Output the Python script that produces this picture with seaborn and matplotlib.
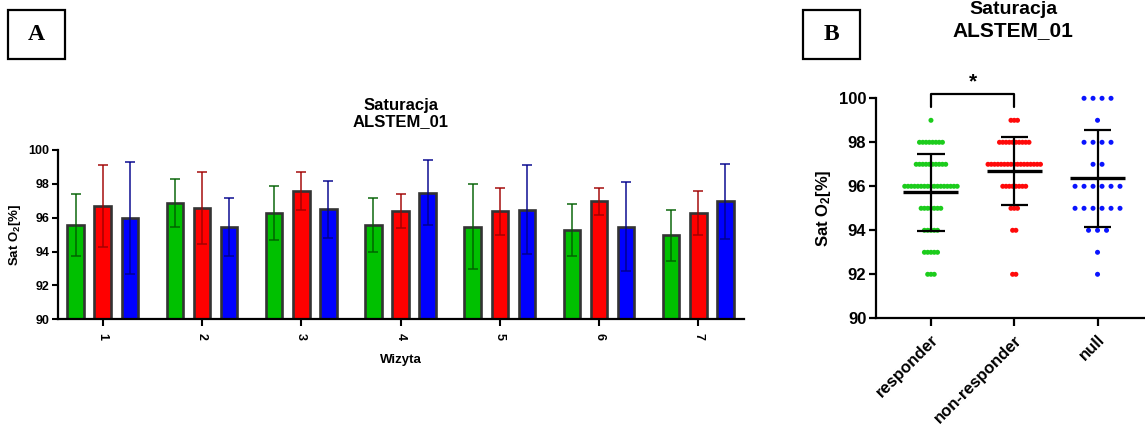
import numpy as np
import pandas as pd
import matplotlib
matplotlib.use("Agg")
import matplotlib.pyplot as plt
from matplotlib.patches import Rectangle
from matplotlib.container import BarContainer
import seaborn as sns

# ---- Panel A: mean +/- SD saturation per visit ----
visits = ["1", "2", "3", "4", "5", "6", "7"]
groups = ["responder", "non-responder", "null"]
mean_resp = [95.58, 96.88, 96.28, 95.58, 95.48, 95.28, 94.97]
sd_resp = [1.82, 1.41, 1.59, 1.61, 2.51, 1.52, 1.51]
mean_nonresp = [96.69, 96.57, 97.58, 96.38, 96.37, 96.98, 96.27]
sd_nonresp = [2.42, 2.11, 1.10, 1.00, 1.41, 0.80, 1.31]
mean_null = [95.98, 95.47, 96.49, 97.48, 96.48, 95.47, 96.98]
sd_null = [3.31, 1.72, 1.70, 1.91, 2.61, 2.62, 2.21]

# ---- Panel B: individual saturation readings (count of patients per level) ----
sat_levels = [100, 99, 98, 97, 96, 95, 94, 93, 92]
count_resp = [0, 1, 8, 10, 17, 7, 5, 5, 3]
count_nonresp = [0, 3, 10, 17, 8, 3, 2, 0, 2]
count_null = [4, 1, 4, 2, 6, 6, 3, 1, 1]

bar_colors = ["#00c000", "#ff0000", "#0000ff"]
err_colors = ["#006000", "#a00000", "#00008c"]
dot_colors = ["#1ccc1c", "#ff0a0a", "#0a14ff"]

W, H = 1145, 425

sns.set_theme(style="ticks")
plt.rcParams["font.family"] = ["Liberation Sans", "DejaVu Sans"]
plt.rcParams["font.weight"] = "bold"
plt.rcParams["mathtext.fontset"] = "custom"
plt.rcParams["mathtext.rm"] = "Liberation Sans:bold"
plt.rcParams["mathtext.default"] = "rm"
plt.rcParams["text.color"] = "black"
plt.rcParams["axes.labelcolor"] = "black"
plt.rcParams["xtick.color"] = "black"
plt.rcParams["ytick.color"] = "black"

fig = plt.figure(figsize=(W / 100, H / 100), dpi=100)
fig.patch.set_facecolor("white")

# ================= Panel A =================
axA = fig.add_axes([58 / W, 1 - 319.3 / H, (744 - 58) / W, (319.3 - 150) / H])
df_a = pd.DataFrame({
    "visit": visits * 3,
    "group": np.repeat(groups, len(visits)),
    "mean": mean_resp + mean_nonresp + mean_null,
})
sns.barplot(data=df_a, x="visit", y="mean", hue="group", order=visits,
            hue_order=groups, palette=bar_colors, saturation=1,
            width=0.82, gap=0.39, errorbar=None, edgecolor="#333333",
            linewidth=1.9, legend=False, ax=axA)

sds = [sd_resp, sd_nonresp, sd_null]
bar_containers = [c for c in axA.containers if isinstance(c, BarContainer)]
for i, container in enumerate(bar_containers):
    bars = sorted(container.patches, key=lambda b: b.get_x())
    for bar, s in zip(bars, sds[i]):
        cx = bar.get_x() + bar.get_width() / 2
        axA.errorbar(cx, bar.get_height(), yerr=s, color=err_colors[i],
                     alpha=0.8, capsize=3.5, elinewidth=1.3, capthick=1.3,
                     zorder=4)

axA.set_ylim(90, 100)
axA.set_yticks(np.arange(90, 101, 2))
axA.set_xlim(-0.45, 6.46)
axA.set_xticks(range(len(visits)))
axA.set_xticklabels(visits, rotation=-90)
axA.set_xlabel("Wizyta", fontsize=9.5, fontweight="bold", labelpad=10)
axA.set_ylabel("Sat O$_2$[%]", fontsize=9.5, fontweight="bold", labelpad=4)
axA.set_title("Saturacja\nALSTEM_01", fontsize=12, fontweight="bold", pad=17,
              linespacing=1.15)
sns.despine(ax=axA)
for side in ("left", "bottom"):
    axA.spines[side].set_linewidth(1.6)
    axA.spines[side].set_color("black")
axA.tick_params(axis="y", length=4, width=1.5, labelsize=9, pad=2)
axA.tick_params(axis="x", length=5, width=1.5, labelsize=9, pad=5)

# ================= Panel B =================
axB = fig.add_axes([876 / W, 1 - 318.3 / H, (1145 - 876) / W, (318.3 - 98.3) / H])

counts = [count_resp, count_nonresp, count_null]
max_width = 0.63
base_step = 0.108
rows = []
for gi, (g, cnt) in enumerate(zip(groups, counts)):
    step = min(base_step, max_width / (max(cnt) - 1))
    for level, n in zip(sat_levels, cnt):
        for k in range(n):
            rows.append({"group": g, "sat": level,
                         "xpos": gi + (k - (n - 1) / 2) * step})
df_b = pd.DataFrame(rows)

sns.scatterplot(data=df_b, x="xpos", y="sat", hue="group", hue_order=groups,
                palette=dot_colors, s=13, linewidth=0, legend=False,
                clip_on=False, ax=axB, zorder=3)

for gi, g in enumerate(groups):
    vals = df_b.loc[df_b["group"] == g, "sat"]
    m, sd = vals.mean(), vals.std(ddof=1)
    axB.hlines(m, gi - 0.33, gi + 0.33, color="black", lw=2.4, zorder=5)
    axB.vlines(gi, m - sd, m + sd, color="black", lw=1.6, zorder=5)
    axB.hlines([m - sd, m + sd], gi - 0.165, gi + 0.165, color="black",
               lw=1.6, zorder=5)

# significance bracket between responder and non-responder
axB.plot([0, 0, 1, 1], [99.62, 100.18, 100.18, 99.62], color="black",
         lw=1.6, clip_on=False)
axB.text(0.5, 100.75, "*", ha="center", va="center", fontsize=15,
         fontweight="bold")

axB.set_ylim(90, 100)
axB.set_yticks(np.arange(90, 101, 2))
axB.set_xlim(-0.66, 2.57)
axB.set_xticks(range(len(groups)))
axB.set_xticklabels(groups, rotation=45, ha="right", rotation_mode="anchor")
axB.set_xlabel("")
axB.set_ylabel("Sat O$_2$[%]", fontsize=12, fontweight="bold", labelpad=4)
sns.despine(ax=axB)
for side in ("left", "bottom"):
    axB.spines[side].set_linewidth(1.6)
    axB.spines[side].set_color("black")
axB.tick_params(axis="y", length=5, width=1.6, labelsize=12, pad=2)
axB.tick_params(axis="x", length=6, width=1.6, labelsize=12, pad=4)

fig.text(1013 / W, 1 - 31 / H, "ALSTEM_01", ha="center", va="center",
         fontsize=15, fontweight="bold")
fig.text(1013 / W, 1 - 10 / H, "Saturacja", ha="center", va="center",
         fontsize=14, fontweight="bold")

# ---- panel letters ----
for label, x0 in (("A", 8), ("B", 803)):
    fig.add_artist(Rectangle((x0 / W, 1 - 59 / H), 57 / W, 49 / H,
                             transform=fig.transFigure, fill=False,
                             lw=1.6, ec="black"))
    fig.text((x0 + 28.5) / W, 1 - 35 / H, label, ha="center", va="center",
             family="Liberation Serif", fontweight="bold", fontsize=17)

fig.savefig("out.png", dpi=100)
